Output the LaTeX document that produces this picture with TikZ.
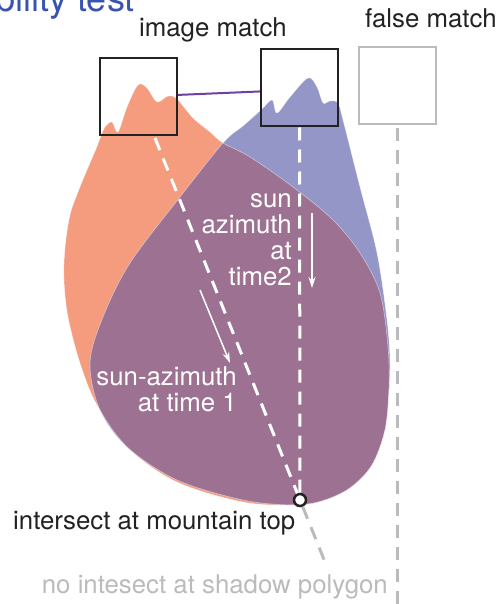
\documentclass[tikz,border=0pt]{standalone}
\usepackage{fontspec}
\setmainfont{TeX Gyre Heros}
\usetikzlibrary{arrows.meta}
\definecolor{shadeorange}{RGB}{245,155,126}
\definecolor{shadeblue}{RGB}{149,150,200}
\definecolor{shadeboth}{RGB}{157,113,146}
\definecolor{linkpurple}{RGB}{112,64,160}
\definecolor{titleblue}{RGB}{57,83,176}
\definecolor{ghost}{RGB}{187,187,190}
\definecolor{ink}{RGB}{34,34,34}
\tikzset{
  lbl/.style={font=\fontsize{25.8}{26}\selectfont, inner sep=0pt},
  matchbox/.style={draw=ink, line width=2pt, minimum size=77pt, inner sep=0pt},
  ray/.style={white, line width=3pt, dash pattern=on 13pt off 9pt},
  ghostray/.style={ghost, line width=3pt, dash pattern=on 13pt off 9pt},
  sunarrow/.style={white, line width=1.5pt, -{Stealth[length=11pt, width=7pt]}}
}
\begin{document}
\begin{tikzpicture}[x=1pt, y=-1pt]
    \useasboundingbox (0,0) rectangle (499,604);

    % Shadow polygons
    \path[save path=\orangepoly] plot[smooth cycle, tension=0.55] coordinates {
      (101,136) (105,127) (112,122) (118,132) (127,107) (138,85) (147,88)
      (157,102) (168,96) (177,99) (193,118) (210,132) (223,143) (250,157)
      (293,187) (333,220) (360,253) (380,293) (388,347) (389,390) (385,430)
      (372,465) (350,488) (322,501) (293,505) (243,502) (177,482) (128,448)
      (97,405) (80,363) (68,317) (64,280) (65,248) (70,215) (78,192)
      (87,170) (96,149)};
    \path[save path=\bluepoly] plot[smooth cycle, tension=0.55] coordinates {
      (261,110) (272,100) (277,113) (290,97) (308,78) (317,87) (323,103)
      (330,101) (338,103) (343,120) (360,187) (377,253) (387,320) (390,360)
      (389,390) (385,430) (372,465) (350,488) (322,501) (293,505) (243,500)
      (177,480) (127,447) (100,410) (90,363) (103,317) (130,263) (180,197)
      (223,143) (243,126)};
    \fill[shadeorange, use path=\orangepoly];
    \fill[shadeblue, use path=\bluepoly];
    \begin{scope}
      \clip[use path=\orangepoly];
      \fill[shadeboth, use path=\bluepoly];
    \end{scope}
    \draw[white, line width=0.6pt, opacity=0.5, use path=\orangepoly];
    \draw[white, line width=0.6pt, opacity=0.5, use path=\bluepoly];

    % Title
    \node[anchor=base east, inner sep=0pt, text=titleblue,
      font=\fontsize{36}{40}\selectfont] (title) at (135,12) {Visibility test};

    % Matches
    \node[matchbox] (imgL) at (138.5,97) {};
    \node[matchbox] (imgR) at (299.5,88) {};
    \node[matchbox, draw=ghost] (fake) at (397,86) {};
    \node[lbl, anchor=base, text=ink] (imglbl) at (213,37) {image match};
    \node[lbl, anchor=base, text=ink] (fakelbl) at (431,28) {false match};
    \draw[linkpurple, line width=2pt] (imgL.3) -- (imgR.185);

    % Rays
    \node[circle, draw=ink, fill=white, line width=2.5pt, minimum size=12pt,
      inner sep=0pt] (peak) at (300,500) {};
    \coordinate (rayL) at (155,138);
    \coordinate (missL) at (327,567);
    \coordinate (missR) at (397,604);
    \draw[ray] (rayL) -- (peak);
    \draw[ray] (imgR.south) -- (peak);
    \draw[ghostray] (peak) -- (missL);
    \draw[ghostray] (fake.south) ++(0,3) -- (missR);

    % Sun azimuth
    \coordinate (sunA) at (200,290);
    \coordinate (sunB) at (230,363);
    \coordinate (sunC) at (312,213);
    \coordinate (sunD) at (312,288);
    \draw[sunarrow] (sunA) -- (sunB);
    \draw[sunarrow] (sunC) -- (sunD);
    \node[lbl, anchor=north east, align=right, text=white] (time2lbl) at (292,193)
      {sun\\azimuth\\at\\time2};
    \node[lbl, anchor=north east, align=right, text=white] (time1lbl) at (237,366)
      {sun-azimuth\\at time 1};

    % Intersections
    \node[lbl, anchor=base west, text=ink] (hitlbl) at (13,529) {intersect at mountain top};
    \node[lbl, anchor=base east, text=ghost] (misslbl) at (388,593) {no intesect at shadow polygon};
\end{tikzpicture}
\end{document}
